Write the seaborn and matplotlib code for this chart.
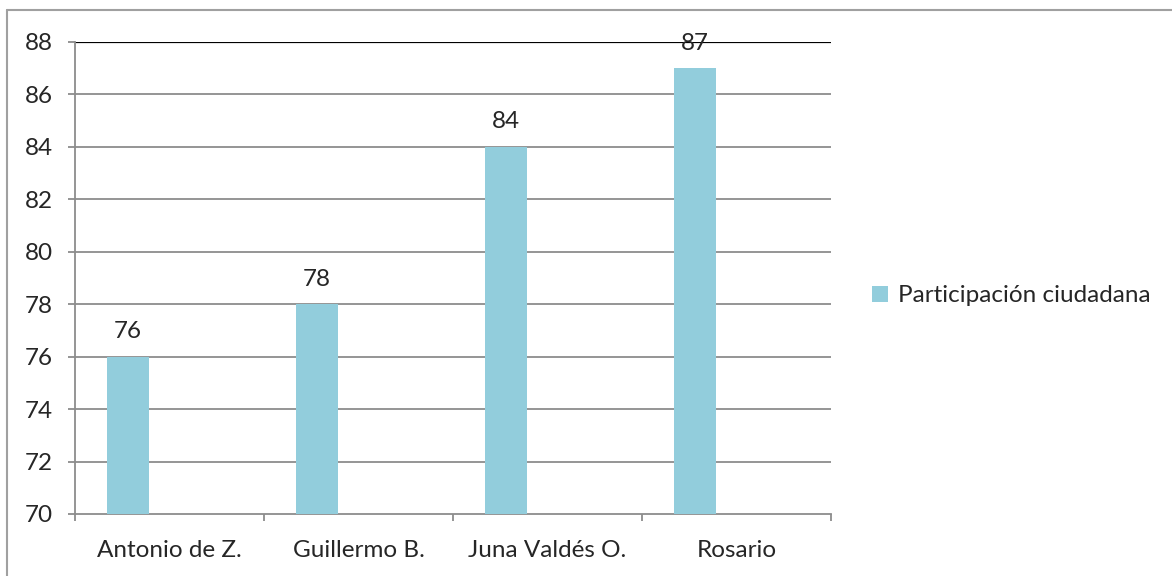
import numpy as np
import matplotlib.pyplot as plt
import seaborn as sns
from matplotlib.lines import Line2D
from matplotlib.patches import Patch

# Data
candidatos = ['Antonio de Z.', 'Guillermo B.', 'Juna Valdés O.', 'Rosario']
participacion = [76, 78, 84, 87]
serie = 'Participación ciudadana'

sns.set_style('white')
plt.rcParams['font.family'] = ['Lato', 'DejaVu Sans']

bar_color = '#92CDDC'
grid_color = '#8C8C8C'
fs = 17.5

fig = plt.figure(figsize=(11.72, 5.76), dpi=100)
ax = fig.add_axes([75 / 1172, 1 - 514 / 576, (831 - 75) / 1172, (514 - 42) / 576])

# bars sit in the left part of each slot (like Excel with an empty 2nd series)
w = 0.222
pos = np.arange(len(candidatos)) - w
ax.bar(pos, participacion, width=w, bottom=0, color=bar_color, edgecolor='none',
       linewidth=0, zorder=3)

ax.set_xlim(-0.5, len(candidatos) - 0.5)
ax.set_ylim(70, 88)
ax.set_yticks(np.arange(70, 89, 2))
ax.tick_params(axis='y', left=True, labelsize=fs, length=5, width=1.3,
               color=grid_color, pad=11)
ax.set_xticks(np.arange(len(candidatos)))
ax.set_xticklabels(candidatos)
ax.tick_params(axis='x', which='major', bottom=True, labelsize=fs, length=0, pad=19)
ax.set_xticks(np.arange(-0.5, len(candidatos)), minor=True)
ax.tick_params(axis='x', which='minor', bottom=True, length=5, width=1.3, color=grid_color)

for y in np.arange(72, 88, 2):
    ax.axhline(y, color=grid_color, lw=1.3, zorder=1)
ax.axhline(88, color='black', lw=1.6, zorder=1)

for s in ['top', 'right']:
    ax.spines[s].set_visible(False)
for s in ['left', 'bottom']:
    ax.spines[s].set_color(grid_color)
    ax.spines[s].set_linewidth(1.3)

for x, v in zip(pos, participacion):
    ax.text(x, v + 0.95, str(v), ha='center', va='center', fontsize=fs, zorder=4)

handle = Patch(facecolor=bar_color, edgecolor='none')
fig.legend([handle], [serie], loc='center left', bbox_to_anchor=(872 / 1172, 1 - 296 / 576),
           frameon=False, fontsize=fs, handlelength=0.65, handleheight=0.65,
           handletextpad=0.4, borderaxespad=0, borderpad=0)

# outer chart border (top and left visible)
fig.add_artist(Line2D([7 / 1172, 1], [1 - 10 / 576, 1 - 10 / 576], color='#A0A0A0', lw=1.5))
fig.add_artist(Line2D([7 / 1172, 7 / 1172], [0, 1 - 10 / 576], color='#A0A0A0', lw=1.5))

fig.savefig('out.png', dpi=100)
